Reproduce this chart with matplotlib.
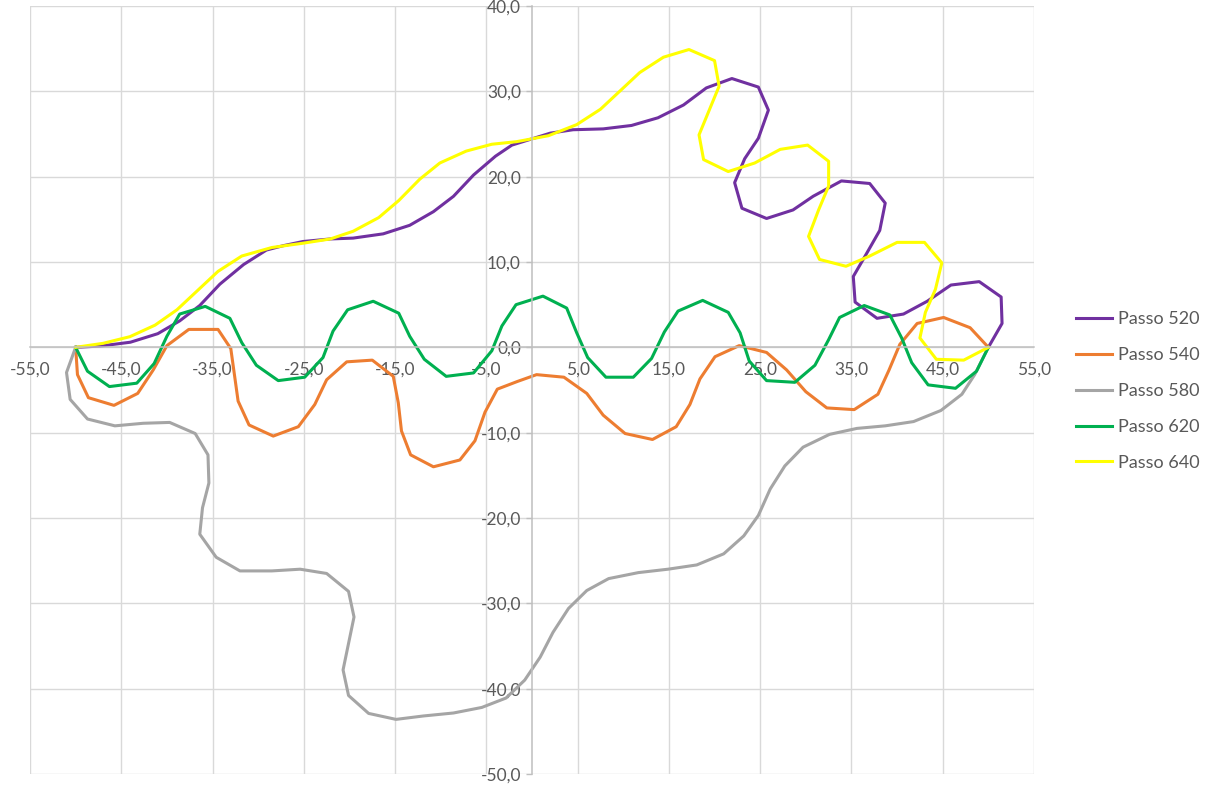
import matplotlib

matplotlib.use("agg")

import matplotlib.pyplot as plt
from matplotlib.ticker import FuncFormatter, MultipleLocator

# traced step paths, one x/y pair of lists per step
passo_520_x = [-50, -47.3, -44.0, -41.0, -38.6, -36.4, -34.2, -31.6, -29.1, -27.3, -25.1, -22.1, -19.6,
               -16.3, -13.4, -10.8, -8.6, -6.4, -4.0, -2.2, 0.2, 2.0, 4.5, 7.8, 10.9, 13.8, 16.6, 19.1,
               21.9, 24.8, 25.9, 24.8, 23.3, 22.2, 23.0, 25.7, 28.6, 30.8, 33.9, 37.0, 38.7, 38.1, 36.5,
               35.2, 35.4, 37.8, 40.7, 43.3, 45.9, 49.0, 51.4, 51.5, 50.0]
passo_520_y = [0, 0.15, 0.6, 1.6, 3.1, 4.9, 7.4, 9.7, 11.4, 11.9, 12.4, 12.7, 12.8,
               13.3, 14.3, 15.9, 17.7, 20.2, 22.4, 23.7, 24.5, 25.1, 25.5, 25.6, 26.0, 26.9, 28.4, 30.4,
               31.5, 30.5, 27.8, 24.5, 22.1, 19.3, 16.3, 15.1, 16.1, 17.7, 19.5, 19.2, 16.9, 13.7, 10.7,
               8.3, 5.3, 3.4, 3.9, 5.4, 7.3, 7.7, 5.9, 2.8, 0]

passo_540_x = [-50, -49.8, -48.6, -45.8, -43.2, -41.5, -40.0, -37.6, -34.4, -33.0, -32.2, -31.0, -28.35,
               -25.6, -23.8, -22.5, -20.3, -17.5, -15.2, -14.65, -14.3, -13.3, -10.8, -7.9, -6.25, -5.15,
               -3.8, -1.6, 0.5, 3.5, 6.0, 7.8, 10.2, 13.2, 15.8, 17.3, 18.4, 20.05, 22.7, 25.7, 27.9,
               30.0, 32.3, 35.3, 37.9, 39.1, 40.3, 42.2, 45.1, 48.0, 50]
passo_540_y = [0, -3.2, -5.9, -6.8, -5.4, -2.65, 0.2, 2.1, 2.1, -0.15, -6.3, -9.1, -10.4,
               -9.3, -6.7, -3.8, -1.7, -1.5, -3.4, -6.5, -9.8, -12.6, -14.0, -13.2, -10.95, -7.6,
               -4.9, -4.0, -3.2, -3.5, -5.4, -7.95, -10.1, -10.8, -9.3, -6.7, -3.7, -1.1, 0.2, -0.6, -2.65,
               -5.2, -7.1, -7.3, -5.5, -2.7, 0.35, 2.8, 3.5, 2.3, 0]

passo_580_x = [-50, -51.0, -50.6, -48.7, -45.7, -42.6, -39.7, -36.9, -35.5, -35.4, -36.1, -36.4, -34.6,
               -32.0, -28.5, -25.4, -22.5, -20.1, -19.5, -20.7, -20.1, -17.9, -14.9, -11.9, -8.6, -5.5,
               -2.85, -0.8, 0.9, 2.3, 4.0, 6.0, 8.4, 11.65, 14.9, 18.05, 21.0, 23.2, 24.8, 26.1, 27.7,
               29.7, 32.6, 35.6, 38.7, 41.8, 44.8, 47.1, 48.5, 50]
passo_580_y = [0, -2.95, -6.1, -8.4, -9.2, -8.9, -8.8, -10.1, -12.6, -15.9, -18.8, -21.9, -24.6,
               -26.2, -26.2, -26.0, -26.5, -28.6, -31.6, -37.8, -40.8, -42.9, -43.6, -43.2, -42.85, -42.2,
               -41.1, -39.0, -36.3, -33.4, -30.6, -28.5, -27.1, -26.4, -26.0, -25.5, -24.2, -22.1, -19.7,
               -16.6, -13.9, -11.7, -10.2, -9.5, -9.2, -8.7, -7.4, -5.5, -3.2, 0]

passo_620_x = [-50, -48.7, -46.3, -43.3, -41.4, -40.0, -38.6, -35.8, -33.1, -31.8, -30.2, -27.8, -24.9,
               -22.9, -21.8, -20.2, -17.4, -14.6, -13.4, -11.8, -9.4, -6.4, -4.4, -3.3, -1.75, 1.2, 3.8,
               4.9, 6.1, 8.1, 11.1, 13.1, 14.5, 16.0, 18.7, 21.5, 22.8, 23.8, 25.7, 28.8, 31.0, 32.5,
               33.7, 36.4, 39.2, 40.5, 41.6, 43.4, 46.4, 48.7, 50]
passo_620_y = [0, -2.8, -4.6, -4.2, -1.9, 1.3, 3.9, 4.8, 3.4, 0.55, -2.1, -3.9, -3.5,
               -1.2, 1.9, 4.4, 5.4, 4.0, 1.3, -1.4, -3.4, -3.0, -0.4, 2.5, 5.0, 6.0, 4.6,
               1.7, -1.2, -3.5, -3.5, -1.3, 1.8, 4.25, 5.5, 4.1, 1.7, -1.6, -3.9, -4.1, -2.1, 0.9,
               3.5, 4.9, 3.8, 1.1, -1.8, -4.4, -4.8, -2.8, 0]

passo_640_x = [-50, -47.0, -44.05, -41.3, -38.9, -36.7, -34.4, -31.8, -28.5, -25.1, -22.1, -19.6, -16.8,
               -14.6, -12.3, -10.1, -7.2, -4.4, -1.7, 1.8, 4.9, 7.5, 9.6, 11.8, 14.4, 17.2, 20.0, 20.5,
               18.3, 18.8, 21.5, 24.4, 27.2, 30.2, 32.5, 32.5, 31.4, 30.3, 31.5, 34.4, 37.0, 40.0, 43.0,
               44.9, 44.2, 43.1, 42.5, 44.3, 47.3, 50]
passo_640_y = [0, 0.47, 1.25, 2.6, 4.4, 6.6, 8.9, 10.7, 11.7, 12.2, 12.7, 13.6, 15.2,
               17.2, 19.7, 21.6, 23.0, 23.8, 24.1, 24.8, 26.1, 27.9, 30.0, 32.2, 34.0, 34.9, 33.6, 30.6,
               24.9, 22.0, 20.6, 21.6, 23.2, 23.7, 21.8, 18.9, 16.1, 13.0, 10.3, 9.5, 10.7, 12.3, 12.3,
               9.9, 6.8, 4.1, 1.1, -1.4, -1.5, 0]

series = [
    ("Passo 520", passo_520_x, passo_520_y, "#7030A0"),
    ("Passo 540", passo_540_x, passo_540_y, "#ED7D31"),
    ("Passo 580", passo_580_x, passo_580_y, "#A5A5A5"),
    ("Passo 620", passo_620_x, passo_620_y, "#00B050"),
    ("Passo 640", passo_640_x, passo_640_y, "#FFFF00"),
]

TEXT_COLOR = "#595959"
GRID_COLOR = "#D9D9D9"
AXIS_COLOR = "#BFBFBF"

plt.rcParams["font.family"] = ["Lato", "DejaVu Sans"]

fig = plt.figure(figsize=(12.23, 8.02), dpi=100)
ax = fig.add_axes([30 / 1223, 1 - 774 / 802, 1004 / 1223, 768 / 802])

for label, xs, ys, color in series:
    ax.plot(xs, ys, color=color, lw=2.2, label=label, solid_joinstyle="round")

ax.set_xlim(-55, 55)
ax.set_ylim(-50, 40)
ax.xaxis.set_major_locator(MultipleLocator(10, offset=5))
ax.yaxis.set_major_locator(MultipleLocator(10))


def comma_fmt(v, pos):
    return f"{v:.1f}".replace(".", ",")


ax.xaxis.set_major_formatter(FuncFormatter(comma_fmt))
ax.yaxis.set_major_formatter(FuncFormatter(comma_fmt))

ax.grid(True, color=GRID_COLOR, lw=1.0)
ax.set_axisbelow(True)

# axes cross at the origin, like a spreadsheet scatter chart
for side in ("top", "right"):
    ax.spines[side].set_visible(False)
ax.spines["left"].set_position(("data", 0))
ax.spines["bottom"].set_position(("data", 0))
ax.spines["left"].set_color(AXIS_COLOR)
ax.spines["bottom"].set_color(AXIS_COLOR)
ax.spines["left"].set_linewidth(1.1)
ax.spines["bottom"].set_linewidth(1.1)

ax.tick_params(axis="x", length=0, pad=10, labelsize=12.5, labelcolor=TEXT_COLOR)
ax.tick_params(axis="y", length=4, width=1, color=AXIS_COLOR, pad=4, labelsize=12.5,
               labelcolor=TEXT_COLOR)

fig.legend(loc="center left", bbox_to_anchor=(1076 / 1223, 1 - 391 / 802), frameon=False,
           fontsize=13, labelcolor=TEXT_COLOR, handlelength=2.0, handletextpad=0.3,
           labelspacing=1.1, borderpad=0, borderaxespad=0)

fig.savefig("out.png", dpi=100)
